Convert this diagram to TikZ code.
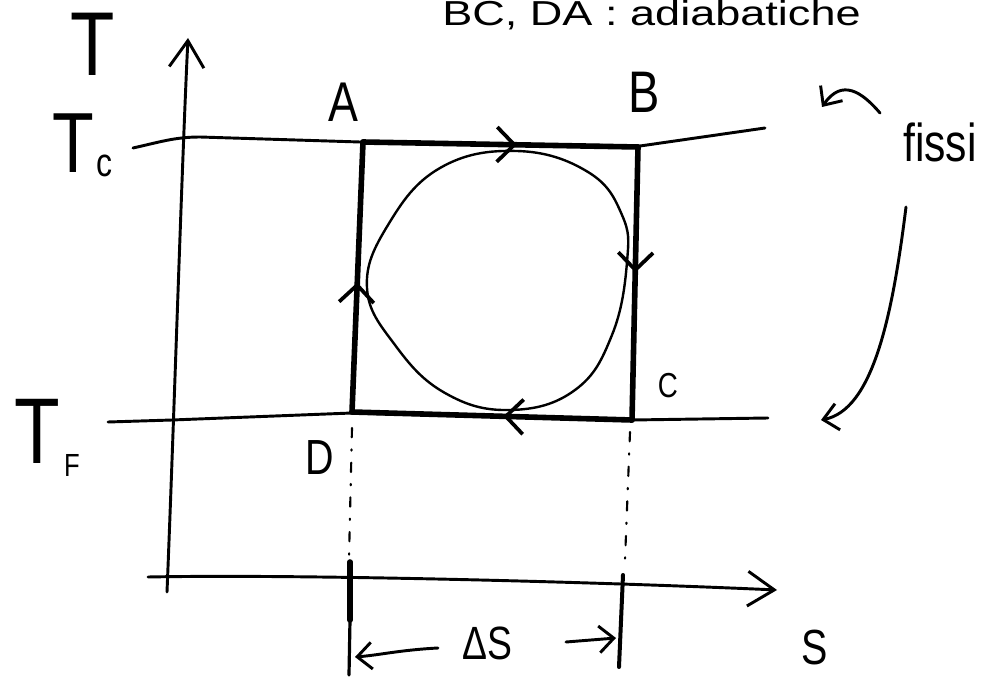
\documentclass[tikz,border=0pt]{standalone}
\usepackage{fontspec}
\setmainfont{Liberation Sans}
\usetikzlibrary{arrows.meta,decorations.markings}
\tikzset{
  axisline/.style={line width=2.2pt},
  heavy/.style={line width=4.2pt},
  thinline/.style={line width=1.8pt},
  guide/.style={line width=1.6pt, dash pattern=on 7pt off 9pt on 1pt off 9pt},
  barb/.style={-{Straight Barb[length=11pt,width=20pt]}},
  bigbarb/.style={-{Straight Barb[length=20pt,width=26pt]}},
  arrowat/.style={decoration={markings, mark=at position #1 with {\arrow[line width=2.8pt]{Straight Barb[length=13pt,width=26pt]}}}, postaction=decorate},
  lab/.style={inner sep=0pt, xscale=0.8},
}
\newcommand{\fsz}[1]{\fontsize{#1}{#1}\selectfont}
\begin{document}
\begin{tikzpicture}[x=0.75pt,y=-0.75pt,line cap=round,line join=round]
\useasboundingbox (0,0) rectangle (996,681);

% title
\node[anchor=base west, inner sep=0pt, xscale=1.3] (title) at (442,26) {\fsz{26}BC, DA : adiabatiche};

% axes
\coordinate (ybot) at (167,592);
\coordinate (ytop) at (188,38);
\coordinate (xl) at (148,577);
\coordinate (xr) at (777,590);
\draw[axisline,bigbarb] (ybot) .. controls (174,420) and (182,160) .. (ytop);
\draw[axisline,bigbarb] (xl) .. controls (300,574) and (600,582) .. (xr);

% isotherms
\draw[axisline] (133,148) .. controls (160,142) and (175,137) .. (200,137) -- (360,142) -- (640,146) -- (765,128);
\draw[axisline] (108,422) -- (172,420) -- (352,413) -- (632,420) -- (768,418);

% cycle corners
\coordinate (A) at (363,142);
\coordinate (B) at (638,147);
\coordinate (C) at (632,420);
\coordinate (D) at (352,412);

% inner cycle
\draw[thinline] plot[smooth cycle, tension=0.7] coordinates {(517,151) (588,172) (622,215) (627,262) (612,335) (575,390) (510,410) (445,393) (395,345) (367,288) (388,225) (440,168)};

% rectangle with arrows
\draw[heavy, arrowat=0.56] (A) -- (B);
\draw[heavy, arrowat=0.46] (B) -- (C);
\draw[heavy, arrowat=0.46] (C) -- (D);
\draw[heavy, arrowat=0.48] (D) -- (A);

% labels of corners
\node[lab] (lA) at (343,102) {\fsz{42}A};
\node[lab] (lB) at (644,92) {\fsz{44}B};
\node[lab] (lC) at (668,386) {\fsz{26}C};
\node[lab] (lD) at (320,458) {\fsz{37}D};

% axis labels
\node[lab] (lT) at (93,44) {\fsz{68}T};
\node[lab, anchor=base west] (lTc) at (52,173) {\fsz{64}T};
\node[lab, anchor=base west] (lTcs) at (96,177) {\fsz{30}c};
\node[lab, anchor=base west] (lTF) at (14,463) {\fsz{70}T};
\node[lab, anchor=base west] (lTFs) at (64,476) {\fsz{24}F};
\node[lab] (lS) at (815,648) {\fsz{37}S};

% fissi with arrows
\node[lab] (fissi) at (940,142) {\fsz{40}fissi};
\coordinate (f1s) at (880,113);
\coordinate (f1e) at (822,107);
\coordinate (f2s) at (906,207);
\coordinate (f2e) at (821,420);
\draw[axisline,barb] (f1s) .. controls (862,92) and (842,78) .. (f1e);
\draw[axisline,barb] (f2s) .. controls (892,320) and (872,410) .. (f2e);

% projection guides
\coordinate (gD) at (352,428);
\coordinate (gDb) at (349,558);
\coordinate (gC) at (630,432);
\coordinate (gCb) at (625,560);
\draw[guide] (gD) -- (gDb);
\draw[guide] (gC) -- (gCb);

% ticks
\coordinate (tL1) at (350,562);
\coordinate (tL2) at (350,620);
\coordinate (tL3) at (349,675);
\coordinate (tR1) at (623,575);
\coordinate (tR2) at (619,667);
\draw[line width=4.2pt] (tL1) -- (tL2);
\draw[line width=2.4pt] (tL2) -- (tL3);
\draw[line width=3pt] (tR1) -- (tR2);

% Delta S
\node[lab] (dS) at (487,643) {\fsz{35}ΔS};
\coordinate (dL) at (438,648);
\coordinate (dLe) at (355,657);
\coordinate (dR) at (566,642);
\coordinate (dRe) at (616,638);
\draw[axisline,barb] (dL) .. controls (400,650) and (380,655) .. (dLe);
\draw[axisline,barb] (dR) -- (dRe);
\end{tikzpicture}
\end{document}
